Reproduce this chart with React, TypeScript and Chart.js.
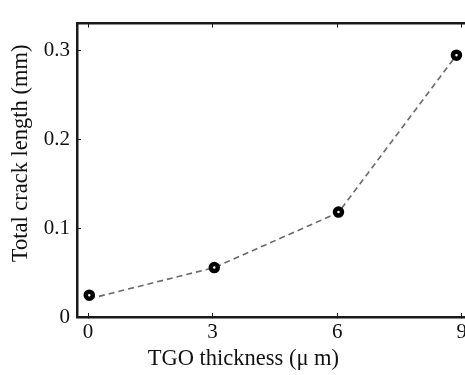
import React, { useEffect, useRef } from 'react';
import { Chart, registerables } from 'chart.js';
Chart.register(...registerables);

// TGO thickness (µm) and total crack length (mm)
const thicknessUm = [0.03, 3.04, 6.03, 8.87];
const crackLengthMm = [0.0246, 0.0556, 0.118, 0.2945];
// dashed trend line
const trendX = [0.03, 3.04, 6.03, 8.87];
const trendY = [0.0205, 0.0556, 0.1175, 0.2945];
const xTicks = [0, 3, 6, 9];
const yTicks = [0, 0.1, 0.2, 0.3];

const FONT = 'Liberation Serif, Times New Roman, serif';
const AXIS = '#1a1a1a';

export default function App() {
  const ref = useRef<HTMLCanvasElement | null>(null);
  useEffect(() => {
    document.body.style.overflow = 'hidden';
    const ctx = ref.current!.getContext('2d')!;
    const chart = new Chart(ctx, {
      type: 'scatter',
      data: {
        datasets: [
          {
            data: trendX.map((x, i) => ({ x, y: trendY[i] })),
            showLine: true,
            borderColor: '#6a6a6a',
            borderWidth: 1.6,
            borderDash: [6, 4],
            pointRadius: 0,
            fill: false,
            order: 2,
          },
          {
            data: thicknessUm.map((x, i) => ({ x, y: crackLengthMm[i] })),
            showLine: false,
            pointRadius: 3.5,
            pointBorderWidth: 4.5,
            pointBorderColor: '#000',
            pointBackgroundColor: '#fff',
            order: 1,
          },
        ],
      },
      options: {
        animation: false,
        responsive: true,
        maintainAspectRatio: false,
        layout: { padding: { left: 0, top: 0, right: 14, bottom: 0 } },
        plugins: { legend: { display: false }, tooltip: { enabled: false } },
        scales: {
          x: {
            type: 'linear',
            position: 'bottom',
            min: -0.265,
            max: 9.1,
            afterBuildTicks: (s: any) => { s.ticks = xTicks.map((v) => ({ value: v })); },
            afterFit: (s: any) => { s.height = 58; },
            ticks: {
              font: { family: FONT, size: 21 },
              color: '#111',
              padding: 7,
              maxRotation: 0,
              callback: (v: any) => String(v),
            },
            grid: { drawOnChartArea: false, drawTicks: true, tickLength: -4, tickColor: AXIS, tickWidth: 1 },
            border: { display: true, color: AXIS, width: 2.5 },
            title: {
              display: true,
              text: 'TGO thickness (\u03bc m)          ',
              font: { family: FONT, size: 22.5 },
              color: '#111',
              padding: { top: 0, bottom: 2.5 },
            },
          },
          x2: {
            type: 'linear',
            position: 'top',
            min: -0.265,
            max: 9.1,
            afterBuildTicks: (s: any) => { s.ticks = xTicks.map((v) => ({ value: v })); },
            afterFit: (s: any) => { s.height = 7; },
            ticks: { display: false },
            grid: { drawOnChartArea: false, drawTicks: true, tickLength: -4, tickColor: AXIS, tickWidth: 1 },
            border: { display: true, color: AXIS, width: 2.5 },
          },
          y: {
            type: 'linear',
            position: 'left',
            min: 0,
            max: 0.33,
            afterBuildTicks: (s: any) => { s.ticks = yTicks.map((v) => ({ value: v })); },
            afterFit: (s: any) => { s.width = 77; },
            ticks: {
              font: { family: FONT, size: 21 },
              color: '#111',
              padding: 11,
              callback: (v: any) => (v === 0 ? '0' : Number(v).toFixed(1)),
            },
            grid: { drawOnChartArea: false, drawTicks: true, tickLength: -4, tickColor: AXIS, tickWidth: 1 },
            border: { display: true, color: AXIS, width: 2.5 },
            title: {
              display: true,
              text: '      Total crack length (mm)',
              font: { family: FONT, size: 22.5 },
              color: '#111',
              padding: { top: 8, bottom: 12 },
            },
          },
        },
      },
    });
    return () => chart.destroy();
  }, []);
  return (
    <div style={{ position: 'absolute', left: 0, top: 0, width: 480, height: 375, background: '#fff' }}>
      <canvas ref={ref} />
    </div>
  );
}
